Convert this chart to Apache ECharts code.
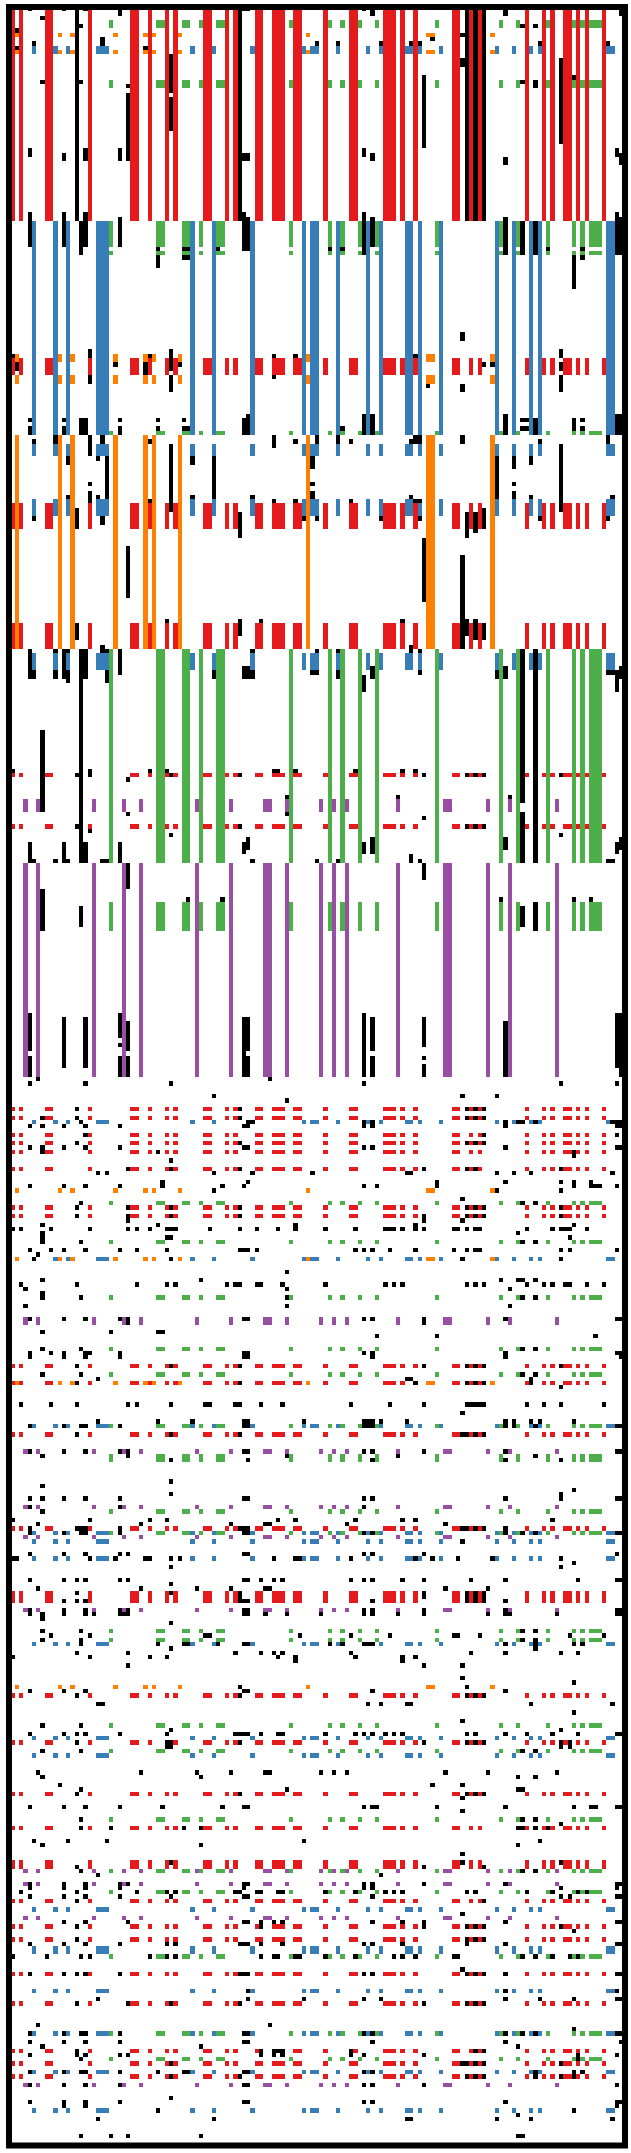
<!DOCTYPE html>
<html>
<head>
<meta charset="utf-8">
<title>Matrix</title>
<script src="https://cdn.jsdelivr.net/npm/echarts@6/dist/echarts.min.js"></script>
<style>
  html, body { margin: 0; padding: 0; background: #fff; }
  #chart { width: 631px; height: 2153px; }
</style>
</head>
<body>
<div id="chart"></div>
<script>
const rowCount = 500;

// group of each column, ten per chunk: R O B G P, '.' = no group (only black cells)
const columnGroups = [
  'RORP.BP.RR', 'BO.BO...RP', 'BBBGO.P.RR', 'POROGGR.RO', 'GGBPGRRBGG',
  'RPR...BRRP', 'PRRRPGRRBO', 'BBPRGPBGPR', 'RG.B.GBRRR', 'PRBBRB.OOG',
  'BPPRR..R.R', '.POBG.PBG.', 'RB.BRGRP.R', 'RGRGRGGGRB', 'B..',
].join('');

// row ranges where a group's columns are filled in
const redRows = [[0,49],[82,85],[116,121],[144,149],[179,179],[191,191],[257,257],[259,259],[263,263],[265,265],[267,267],[271,271],[280,280],[282,282],[317,317],[321,321],[333,333],[355,355],[370,372],[394,394],[405,405],[417,417],[425,425],[433,434],[442,442],[448,448],[451,451],[459,459],[466,466],[477,477],[480,480],[483,483]];
const blueRows = [[9,10],[50,99],[102,104],[115,118],[151,154],[260,260],[292,292],[331,331],[356,356],[358,358],[362,362],[382,382],[404,404],[408,408],[444,444],[453,454],[463,463],[473,473],[482,482],[491,491]];
const orangeRows = [[6,6],[10,10],[81,82],[86,87],[100,149],[276,276],[292,292],[321,321],[392,392]];
const greenRows = [[3,4],[17,18],[50,55],[57,57],[99,99],[150,199],[209,215],[279,279],[288,288],[301,301],[313,313],[319,319],[331,331],[338,339],[351,351],[356,356],[379,379],[381,381],[401,401],[407,407],[423,423],[435,435],[440,440],[455,455],[473,473],[479,479]];
const purpleRows = [[185,187],[200,249],[306,307],[337,337],[350,350],[357,357],[374,374],[435,435],[438,438],[446,446],[485,485]];

// black vertical streaks: [column, first row, last row]
const blackStreaks = [
  [15,0,49],[53,0,49],[106,0,49],[108,0,49],[110,0,49],[25,0,1],[84,0,1],[115,0,1],[142,0,1],[37,11,19],[37,21,28],[27,20,35],[96,16,32],[128,12,31],[105,12,13],[21,7,8],
  [4,33,34],[12,34,35],[17,33,35],[25,33,35],[54,34,35],[55,34,35],[82,33,34],[84,34,35],[115,35,36],[141,33,34],[142,34,36],[4,48,49],[12,48,49],[17,48,49],[82,48,49],[141,48,49],
  [4,50,55],[12,49,55],[16,50,57],[17,50,55],[25,49,55],[54,49,56],[55,49,56],[82,49,57],[84,49,55],[115,49,57],[119,50,57],[122,50,57],[141,49,57],[142,49,57],[34,58,60],[131,58,65],
  [105,76,77],[105,88,89],[18,80,81],[18,86,87],[1,83,84],[37,80,84],[37,86,89],[31,83,85],[128,80,81],[128,86,89],
  [4,98,99],[12,98,99],[16,96,99],[17,96,99],[25,98,99],[54,96,99],[55,95,99],[82,95,99],[84,95,99],[115,95,99],[122,96,99],[131,96,98],[141,95,99],[142,95,99],
  [10,100,101],[18,100,104],[21,100,101],[61,100,102],[71,100,101],[76,100,101],[94,100,101],[95,100,101],[105,100,101],[139,100,101],[37,102,117],[128,102,117],[13,105,106],[22,105,114],[42,105,106],[47,105,114],[70,105,107],[113,105,114],[117,105,107],[121,105,106],
  [18,113,115],[70,113,114],[117,113,114],[15,117,121],[21,119,120],[53,118,123],[106,118,123],[108,118,122],[110,117,121],[27,126,137],[96,124,138],[105,128,148],[106,143,146],[108,143,147],[110,144,147],[15,144,147],[53,143,146],[21,149,150],
  [4,150,156],[10,150,150],[10,155,156],[12,150,156],[13,150,150],[13,155,156],[16,150,199],[17,150,156],[17,195,199],[5,155,156],[22,155,157],[25,150,155],[47,155,156],[54,154,156],[55,154,156],[56,155,156],[76,155,156],[84,154,156],[113,155,156],[115,154,156],
  [119,150,185],[119,188,199],[122,150,199],[82,156,159],[141,155,159],[142,154,156],[139,155,155],[140,155,155],[7,169,187],
  [4,195,199],[12,195,199],[25,195,199],[54,195,197],[55,194,196],[82,195,197],[84,194,197],[93,198,199],[115,194,196],[141,195,197],[142,194,196],
  [27,200,205],[96,200,203],[7,206,215],[16,210,214],[119,210,214],[122,209,215],
  [4,235,243],[4,245,249],[12,236,247],[17,236,247],[25,235,240],[25,245,249],[27,237,243],[27,245,249],[54,236,249],[55,236,243],[55,245,249],[82,235,249],[84,236,243],[84,245,249],[96,236,242],[96,247,249],[115,237,249],[141,235,247],[142,235,249]
];

// scattered black cells: [row, columns]
const blackCells = [
  [0,[4,12,17,54,55,82]],[2,[7]],[4,[16,119,122]],[5,[1]],[6,[105]],[7,[98]],[8,[5,71,76,86,93,95,123,139]],[9,[1,31]],[16,[131]],[17,[7,16,119,122]],[18,[27,122]],[48,[54]],[49,[25,84,115,142,54,55]],
  [56,[34,40,41,48,74,77,125,133]],[58,[40,41,133]],[81,[0,32,61,66,94]],[83,[24,39,110,112,128]],[84,[128]],[86,[61]],[88,[97]],[96,[4,12,25,34,40,119,120,133]],[98,[34,40,41,77,119,120,133]],
  [101,[5,32,66,79,123,93]],[105,[20]],[111,[18,70,117]],[114,[13,20,42,56,93,121,140]],[115,[32,61,66,79,94,95]],[119,[5,68,71,86,95,123,139]],[143,[36,58,91]],[149,[105,93]],[150,[22,56,71,76,93,95]],[155,[70,71,95]],[157,[13]],
  [178,[0,18,32,36,61,62,66,80,91,94]],[179,[15,18,37,53,96,106,108,110,128]],[180,[27]],[184,[64,90,116]],[188,[27,64]],[189,[96]],[191,[15,53,106,108,110]],[192,[18]],[193,[37,128]],[199,[5,10,13,21,22,56,71,76,95,139,140]],[208,[41,49,114,131,135]],[242,[25]],[245,[96]],
  [250,[6,60]],[251,[4,17,37,82,128,141]],[254,[47,105,113]],[255,[64]],[257,[15,53,106,108,110]],[259,[7,15,53,106,108,110]],[260,[16,55,56,82,84,115,118,119,122,140,141,142]],[261,[4,7,12,17,25,54,55,82,84,115,141,142]],[263,[17,110,141]],[265,[15,53,106,108,110]],[266,[4,7,12,17,25,54,55,82,84,115,141,142]],[267,[7,34,131]],[268,[131]],[269,[37]],
  [271,[27,37,53,96,106,108,128]],[272,[20,22,47,56,70,92,93,113,117,121,140]],[274,[35,55,99,115,128,131,135]],[275,[4,12,17,25,35,49,54,82,85,99,131,135,136,137,141]],[276,[47,113,128]],[278,[105]],[279,[16,119,122]],[280,[15,27,37,53,106,108,110,128]],[282,[15,27,37,53,96,106,108,110,128]],[283,[27,96,105]],[284,[7,34,66,94,131]],
  [285,[0,2,9,18,27,29,32,36,37,38,46,53,57,62,66,73,80,87,88,89,91,94,96,103,104,106,108,109,120,126,128,129,130,134]],[286,[7,118]],[287,[7,36,37,130]],[288,[7,16,119,122]],[290,[4,9,12,17,25,29,36,53,54,55,57,80,82,84,88,94,103,106,108,109,128,130,141]],[291,[6]],[292,[5,37,105,128]],[295,[64]],[297,[7,44,114,118,119,122]],
  [298,[2,15,29,36,38,50,52,53,57,58,63,73,87,89,91,106,108,110,120,124,126,129,130,134,138]],[299,[3,64,116]],[300,[7]],[301,[7,16,64,119,122]],[303,[3,64,116]],[306,[4,12,17,25,27,54,55,82,84,96,115,141,142]],[307,[27,96]],[309,[7,23,34,35]],[310,[85,99,136]],[313,[7,16,119,122]],[314,[4,9,12,17,18,25,54,55,82,84,115,141,142]],[315,[4,12,17,25,54,55,84,115,142]],
  [317,[15,37,53,96,106,108,110,128]],[319,[7,16,119,122]],[320,[20,92,93,121]],[321,[15,53,94,106,108,110,121]],[322,[128]],[326,[2,9,15,27,29,37,45,46,52,53,58,63,79,88,96,106,107,108,109,110,120,124,128,138]],[328,[105]],
  [330,[20,34,42,54,55,68,82,83,84,86,92,115,117,121,123,131]],[331,[4,12,16,17,25,54,55,82,83,84,115,117,122,141,142]],[333,[15,37,53,105,106,108,110]],[337,[4,12,17,25,27,54,55,82,84,96,115,141,142]],[338,[7,27,64,90,122]],[339,[37,55,84,115,128]],[344,[37]],[345,[7]],[346,[131]],[347,[37,128]],[348,[4,7,12,17,25,54,55,82,84,115,128,141,142]],[350,[4,25,82]],[351,[7]],
  [353,[0,18,32,36,62,66,80,91,94,126]],[354,[6,30,51,59,60,78,101]],[355,[4,15,16,17,25,53,54,55,105,106,108,110,115]],[356,[4,12,16,17,25,54,55,82,84,115,119,122,141,142]],[358,[105]],[361,[4,12,17,25,27,54,55,82,84,96,141]],[362,[0,1,18,24,31,32,37,39,61,66,67,79,94,98,104,112,128]],[363,[131]],[364,[37,128]],
  [367,[4,12,15,17,25,27,54,55,58,61,63,79,82,84,91,96,107,115,132,141,142]],[368,[37]],[369,[6,30,43,51,59,60,101,111]],[370,[15,37,53,96,106,108,110]],[371,[53,96,106,108,110]],[372,[12,15,17,53,54,55,84,106,108,110,115]],[374,[4,12,17,25,27,54,55,82,84,96,115,141,142]],[375,[4,7,12,17,19,25,26,27,54,55,59,64,72,82,84,90,96,111,115,116,127,141,142]],[376,[7]],[377,[37]],
  [379,[7,16,119,122]],[380,[9,18,45,46,67,79,88,103,104,109,130,138]],[381,[7,16,119,122]],[382,[16,34,40,41,48,54,55,74,77,82,83,84,115,122,131,133]],[383,[37,122]],[384,[15,27,52,58,61,63,79,107,115,128,132]],[385,[0,18,32,36,62,66,80,91,94]],[386,[66,91]],[387,[27,96,105]],[390,[105]],[391,[131]],[392,[53,106]],[393,[4,12,17,54,55,84,115]],[394,[15,53,106,108,110]],[396,[20,21,83,86,92,93,121,140]],[398,[131]],[400,[105]],[401,[7,16]],[402,[37,128]],
  [403,[4,12,15,17,25,36,52,53,54,55,58,62,63,73,80,82,84,87,89,91,106,108,115,120,126,132,141,142]],[405,[15,36,37,53,96,106,108,110,128,130]],[406,[36,37,128,130]],[407,[7,16,119,122]],[412,[6,30,43,51,59,60,72,75,78,101,111,127]],[413,[7,44,118,122]],[415,[11,98,105]],[416,[16,64,118,119]],[417,[15,53,106,108,110]],[418,[105]],
  [420,[4,12,17,25,35,49,54,55,82,84,85,99,115,131,135,136,141,142]],[421,[105]],[423,[16,119,122]],[424,[128]],[425,[16,23,40,44,118,119,122,125]],[428,[5,13,22,68,123]],[429,[7,44,118]],[431,[105]],[433,[37,105,128]],[434,[15,96,110]],[435,[16,119,122]],[436,[20,86]],[438,[4,12,17,25,27,54,55,82,84,96,115,141,142]],[439,[4,12,17,25,54,82,84,128,141]],
  [440,[2,15,29,36,38,52,53,57,58,62,63,73,80,87,89,91,106,108,120,126,132,134]],[441,[4,12,17,25,37,54,55,84,128,130,141,142]],[442,[15,110]],[445,[105]],[447,[12,17,27,54,55,58,61,63,84,91,96,115,141,142]],[448,[15,58,96,106,108,110,128]],[449,[131]],[451,[15,106,108,110]],[452,[4,12,17,25,36,38,53,54,55,58,63,82,84,91,106,115,141,142]],
  [455,[0,8,16,18,32,36,38,58,61,62,66,67,73,80,89,91,94,103,104,119,122,126,130,132]],[458,[105]],[459,[4,12,15,17,25,53,54,55,82,84,106,108,110,115,141,142]],[463,[55,115,141]],[465,[20,55,68,82,86,115,123,131,141,142]],[466,[15,27,37,53,96,106,108,110]],[471,[6,60]],[472,[131]],[473,[4,12,16,17,25,54,55,82,84,115,119,122,141,142]],[475,[4,12,17,25,54,55,84,115,142]],[476,[7,44,118]],
  [477,[15,58,61,62,63,79,108,110]],[478,[4,15,17,25,27,58,61,63,79,82,96,132,141]],[479,[16,132]],[480,[37,105,106,108,110,128]],[482,[4,12,16,17,25,34,40,41,54,55,82,84,122,131,133]],[483,[37,53,106,108,110,122,128,131]],[485,[4,12,17,25,54,55,82,84,96,141]],[488,[37]],[489,[4,12,17,25,54,55,82,84,115,141,142]],[490,[12,17,141]],[491,[34,131]],[492,[118]],[493,[20,47,92,93,113,121,140]],[497,[16,23,27,44,118,119]]
];

const columns = columnGroups.split('').map((g, i) => String(i));
const rows = Array.from({ length: rowCount }, (_, i) => String(i));

// Cells of one group: its columns crossed with its row ranges
const groupCells = (group, ranges) => {
  const cells = [];
  columnGroups.split('').forEach((g, col) => {
    if (g !== group) return;
    ranges.forEach(([from, to]) => {
      for (let row = from; row <= to; row++) cells.push([col, row]);
    });
  });
  return cells;
};

const blackData = [];
blackStreaks.forEach(([col, from, to]) => {
  for (let row = from; row <= to; row++) blackData.push([col, row]);
});
blackCells.forEach(([row, cols]) => cols.forEach((col) => blackData.push([col, row])));

// Snap edges to whole pixels so neighbouring cells leave no seams
const renderCell = (params, api) => {
  const p = api.coord([api.value(0), api.value(1)]);
  const s = api.size([1, 1]);
  const x0 = Math.round(p[0] - s[0] / 2);
  const x1 = Math.round(p[0] + s[0] / 2);
  const y0 = Math.round(p[1] - s[1] / 2);
  const y1 = Math.round(p[1] + s[1] / 2);
  return {
    type: 'rect',
    shape: { x: x0, y: y0, width: x1 - x0, height: y1 - y0 },
    style: { fill: api.visual('color') },
  };
};

const cellSeries = (name, color, data) => ({
  name,
  type: 'custom',
  renderItem: renderCell,
  data,
  encode: { x: 0, y: 1 },
  itemStyle: { color },
  silent: true,
  animation: false,
  progressive: 0,
});

const chart = echarts.init(document.getElementById('chart'), null, { renderer: 'canvas' });

chart.setOption({
  animation: false,
  backgroundColor: '#ffffff',
  grid: { left: 10.5, top: 7, width: 612.8, height: 2140, show: false },
  xAxis: { type: 'category', data: columns, show: false },
  yAxis: { type: 'category', data: rows, inverse: true, show: false },
  series: [
    cellSeries('red', '#e41a1c', groupCells('R', redRows)),
    cellSeries('blue', '#377eb8', groupCells('B', blueRows)),
    cellSeries('orange', '#ff7f00', groupCells('O', orangeRows)),
    cellSeries('green', '#4daf4a', groupCells('G', greenRows)),
    cellSeries('purple', '#984ea3', groupCells('P', purpleRows)),
    cellSeries('black', '#000000', blackData),
  ],
  // thick frame round the matrix
  graphic: {
    elements: [
      {
        type: 'rect',
        z: 100,
        silent: true,
        shape: { x: 9, y: 7, width: 616, height: 2138.5 },
        style: { fill: 'transparent', stroke: '#000000', lineWidth: 6 },
      },
    ],
  },
});
</script>
</body>
</html>
